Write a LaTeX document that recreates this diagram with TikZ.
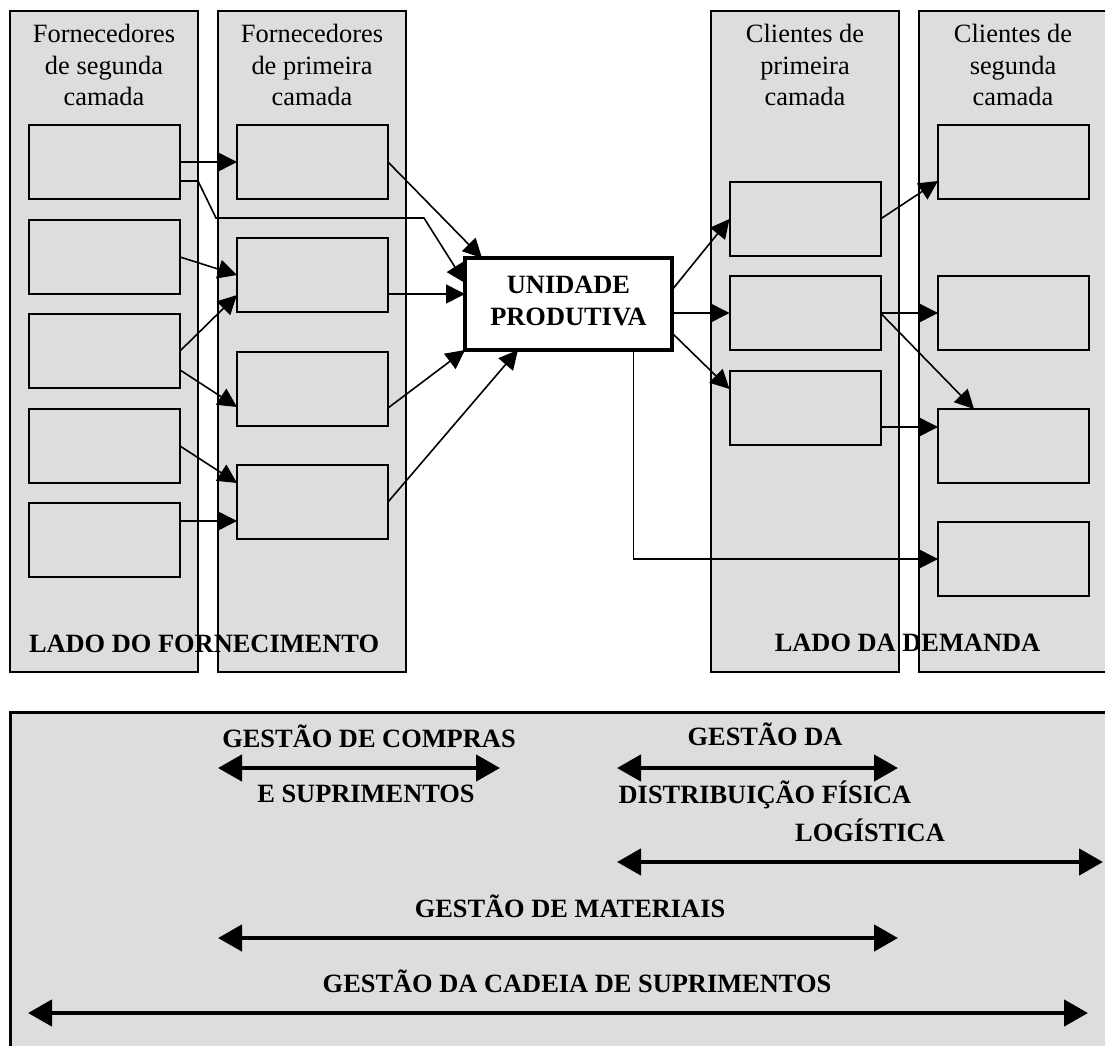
\documentclass[tikz,border=0pt]{standalone}
\usepackage{fontspec}
\setmainfont{Liberation Serif}
\usetikzlibrary{arrows.meta}
\definecolor{panel}{RGB}{221,221,221}
\begin{document}
\begin{tikzpicture}[x=1pt,y=-1pt,
  every node/.style={inner sep=0pt, outer sep=0pt},
  column/.style={draw, line width=2pt, fill=panel, minimum width=188pt, minimum height=661pt},
  rim/.style={draw, line width=2pt},
  tier/.style={draw, line width=2pt, fill=panel, minimum width=151pt, minimum height=74pt},
  hub/.style={draw, line width=4pt, fill=white, minimum width=207pt, minimum height=92pt,
    align=center, font=\bfseries\fontsize{26.4}{32}\selectfont},
  head/.style={align=center, anchor=base, font=\fontsize{26.4}{31.5}\selectfont},
  side/.style={anchor=base, font=\bfseries\fontsize{26.4}{31.5}\selectfont},
  conn/.style={line width=1.6pt, -{Triangle[length=19pt,width=19pt]}},
  span/.style={line width=4.5pt, {Triangle[length=24pt,width=26pt]}-{Triangle[length=24pt,width=26pt]}},
]
\useasboundingbox (0,0) rectangle (1105,1046);
\clip (0,0) rectangle (1105,1046);

% the four tiers of the chain
\node[column] (col1) at (104,341.5) {};
\node[column] (col2) at (312,341.5) {};
\node[column] (col3) at (805,341.5) {};
\node[column] (col4) at (1013,341.5) {};

% headings (anchored on the baseline of their last line)
\node[head] (h1) at (104,106) {Fornecedores\\de segunda\\camada};
\node[head] (h2) at (312,106) {Fornecedores\\de primeira\\camada};
\node[head] (h3) at (805,106) {Clientes de\\primeira\\camada};
\node[head] (h4) at (1013,106) {Clientes de\\segunda\\camada};

\node[side, anchor=base west] (supply) at (29,652) {LADO DO FORNECIMENTO};
\node[side] (demand) at (907.5,651) {LADO DA DEMANDA};

% column outlines stroked again over the side labels
\foreach \c in {col1,col2,col3,col4}
  \draw[rim] (\c.north west) rectangle (\c.south east);

% second-tier suppliers
\node[tier] (s1) at (104.5,162) {};
\node[tier] (s2) at (104.5,257) {};
\node[tier] (s3) at (104.5,351) {};
\node[tier] (s4) at (104.5,446) {};
\node[tier] (s5) at (104.5,540) {};
% first-tier suppliers
\node[tier] (f1) at (312.5,162) {};
\node[tier] (f2) at (312.5,275) {};
\node[tier] (f3) at (312.5,389) {};
\node[tier] (f4) at (312.5,502) {};
% first-tier customers
\node[tier] (c1) at (805,219) {};
\node[tier] (c2) at (805,313) {};
\node[tier] (c3) at (805,408) {};
% second-tier customers
\node[tier] (t1) at (1013.5,162) {};
\node[tier] (t2) at (1013.5,313) {};
\node[tier] (t3) at (1013.5,446) {};
\node[tier] (t4) at (1013.5,559) {};

% focal company
\node[hub] (u) at (568.5,304) {UNIDADE\\PRODUTIVA\vphantom{g}};

% supply side flows
\draw[conn] (s1.east) -- (f1.west);
\draw[conn] ([yshift=-19pt]s1.east) -- ++(18,0) -- ++(18,37) -- ++(208,0) -- ([yshift=21pt]u.west);
\draw[conn] (s2.east) -- (f2.west);
\draw[conn] (s3.east) -- ([yshift=-20pt]f2.west);
\draw[conn] ([yshift=-19pt]s3.east) -- ([yshift=-18pt]f3.west);
\draw[conn] (s4.east) -- ([yshift=19pt]f4.west);
\draw[conn] ([yshift=19pt]s5.east) -- ([yshift=-19pt]f4.west);

\draw[conn] (f1.east) -- ([xshift=17pt]u.north west);
\draw[conn] ([yshift=-19pt]f2.east) -- ([yshift=10pt]u.west);
\draw[conn] ([yshift=-19pt]f3.east) -- (u.south west);
\draw[conn] (f4.east) -- ([xshift=53pt]u.south west);

% demand side flows
\draw[conn] ([yshift=14pt]u.east) -- (c1.west);
\draw[conn] ([yshift=-9pt]u.east) -- (c2.west);
\draw[conn] ([yshift=-29pt]u.east) -- ([yshift=19pt]c3.west);
\draw[conn] ([xshift=65pt]u.south) |- (t4.west);

\draw[conn] (c1.east) -- ([yshift=-19pt]t1.west);
\draw[conn] (c2.east) -- (t2.west);
\draw[conn] (c2.east) -- ([xshift=36pt]t3.north west);
\draw[conn] ([yshift=-19pt]c3.east) -- ([yshift=19pt]t3.west);

% management scopes
\draw[line width=3pt, fill=panel] (10.5,712.5) rectangle (1130,1070);

\coordinate (a1l) at (218,768);  \coordinate (a1r) at (500,768);
\coordinate (a2l) at (617,768);  \coordinate (a2r) at (898,768);
\coordinate (a3l) at (617,862);  \coordinate (a3r) at (1103,862);
\coordinate (a4l) at (218,938);  \coordinate (a4r) at (898,938);
\coordinate (a5l) at (28,1013);  \coordinate (a5r) at (1088,1013);

\draw[span] (a1l) -- (a1r);
\draw[span] (a2l) -- (a2r);
\draw[span] (a3l) -- (a3r);
\draw[span] (a4l) -- (a4r);
\draw[span] (a5l) -- (a5r);

\node[side] (g1a) at (369,747) {GESTÃO DE COMPRAS};
\node[side] (g1b) at (366,802) {E SUPRIMENTOS};
\node[side] (g2a) at (765,745) {GESTÃO DA};
\node[side] (g2b) at (765,803) {DISTRIBUIÇÃO FÍSICA};
\node[side] (g3)  at (870,841) {LOGÍSTICA};
\node[side] (g4)  at (570,917) {GESTÃO DE MATERIAIS};
\node[side] (g5)  at (577,992) {GESTÃO DA CADEIA DE SUPRIMENTOS};
\end{tikzpicture}
\end{document}
